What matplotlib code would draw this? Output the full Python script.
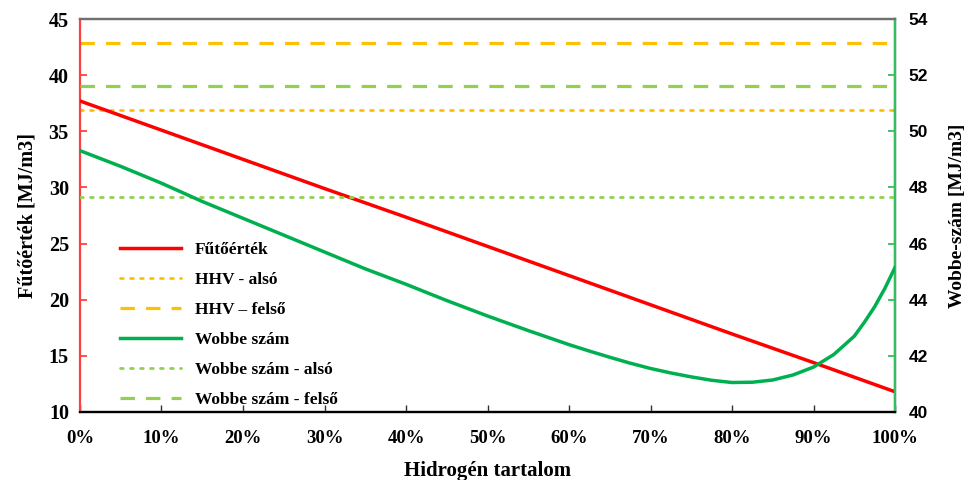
import matplotlib.pyplot as plt
from matplotlib.ticker import FuncFormatter

# hidrogén tartalom (%) és fűtőérték (MJ/m3)
h2_pct = [0, 10, 20, 30, 40, 50, 60, 70, 80, 90, 100]
futoertek = [37.7, 35.1, 32.5, 29.9, 27.35, 24.75, 22.15, 19.55, 16.95, 14.4, 11.8]

# Wobbe-szám (MJ/m3), sűrűbb pontok a görbe végén
wobbe_pct = [0, 5, 10, 15, 20, 25, 30, 35, 40, 45, 50, 55, 60, 62.5, 65,
             67.5, 70, 72.5, 75, 77.5, 80, 82.5, 85, 87.5, 90, 92.5, 95,
             96.25, 97.5, 98.75, 100]
wobbe = [49.31, 48.75, 48.15, 47.5, 46.9, 46.3, 45.7, 45.1, 44.55, 43.97,
         43.42, 42.9, 42.4, 42.17, 41.95, 41.74, 41.55, 41.39, 41.25, 41.13,
         41.05, 41.06, 41.14, 41.32, 41.6, 42.05, 42.7, 43.2, 43.75, 44.4,
         45.15]

hhv_also = 36.9
hhv_felso = 42.85
wobbe_also = 47.65
wobbe_felso = 51.6

serif = "Liberation Serif"
sans = "Liberation Sans"

fig = plt.figure(figsize=(9.72, 4.8), dpi=100)
ax = fig.add_axes([0.0823, 0.1417, 0.8385, 0.8187])
ax2 = ax.twinx()

red = "#ff0000"
green = "#00b050"
orange = "#ffc000"
lgreen = "#92d050"

l1, = ax.plot(h2_pct, futoertek, color=red, lw=2.5, label="Fűtőérték", zorder=5)
l2, = ax.plot([0, 100], [hhv_also, hhv_also], color=orange, lw=2.0,
              linestyle=(0, (1, 2.6)), dash_capstyle="round", label="HHV - alsó")
l3, = ax.plot([0, 100], [hhv_felso, hhv_felso], color=orange, lw=2.3,
              linestyle=(0, (4.5, 3.5)), label="HHV – felső")
l4, = ax2.plot(wobbe_pct, wobbe, color=green, lw=2.5, label="Wobbe szám",
               zorder=5, solid_joinstyle="round")
l5, = ax2.plot([0, 100], [wobbe_also, wobbe_also], color=lgreen, lw=2.0,
               linestyle=(0, (1, 2.6)), dash_capstyle="round", label="Wobbe szám - alsó")
l6, = ax2.plot([0, 100], [wobbe_felso, wobbe_felso], color=lgreen, lw=2.3,
               linestyle=(0, (4.5, 3.5)), label="Wobbe szám - felső")

ax.set_xlim(0, 100)
ax.set_ylim(10, 45)
ax2.set_ylim(40, 54)
ax.set_xticks(range(0, 101, 10))
ax.xaxis.set_major_formatter(FuncFormatter(lambda v, p: f"{v:.0f}%"))
ax.set_yticks(range(10, 46, 5))
ax2.set_yticks(range(40, 55, 2))

# tengelyek színei
ax.spines["left"].set_color("#ff4040")
ax.spines["bottom"].set_color("#303030")
ax.spines["top"].set_color("#707070")
ax2.spines["right"].set_color("#30c060")
ax2.spines["left"].set_visible(False)
ax2.spines["top"].set_color("#707070")
for sp in ax.spines.values():
    sp.set_linewidth(1.6)
for sp in ax2.spines.values():
    sp.set_linewidth(1.6)

ax.tick_params(axis="y", direction="in", color="#ff4040", length=5, width=1.3,
               pad=8, labelsize=14.5)
ax.tick_params(axis="x", direction="in", color="#303030", length=5, width=1.0,
               pad=13, labelsize=13.5)
ax2.tick_params(axis="y", direction="in", color="#30c060", length=5, width=1.3,
                pad=10, labelsize=12.5)
for t in ax.get_yticklabels() + ax.get_xticklabels():
    t.set_fontfamily(serif)
    t.set_fontweight("bold")
for t in ax2.get_yticklabels():
    t.set_fontfamily(sans)
    t.set_fontweight("bold")

ax.set_xlabel("Hidrogén tartalom", fontfamily=serif, fontweight="bold",
              fontsize=15, labelpad=10)
ax.set_ylabel("Fűtőérték [MJ/m3]", fontfamily=serif, fontweight="bold",
              fontsize=14.5, labelpad=8)
ax2.set_ylabel("Wobbe-szám [MJ/m3]", fontfamily=serif, fontweight="bold",
               fontsize=14, labelpad=15)

leg = ax2.legend(handles=[l1, l2, l3, l4, l5, l6], loc="lower left",
                 bbox_to_anchor=(0.03, -0.03), frameon=False,
                 prop={"family": serif, "weight": "bold", "size": 12.5},
                 handlelength=3.5, handletextpad=0.8, labelspacing=0.8)

fig.savefig("out.png", dpi=100)
